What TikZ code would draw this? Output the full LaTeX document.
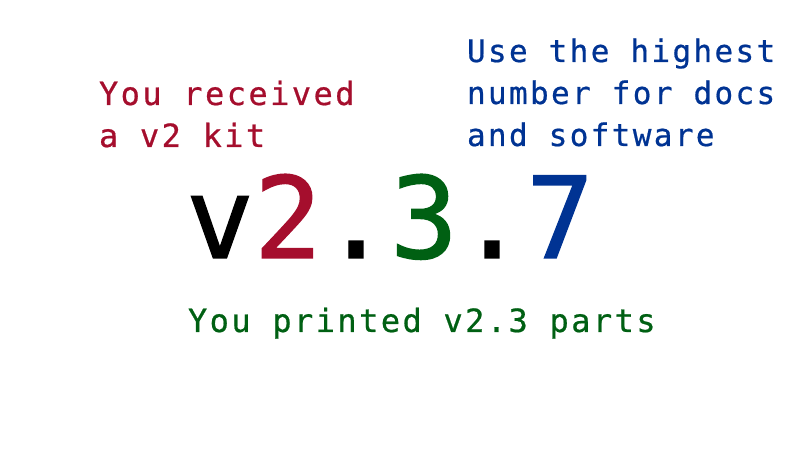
\documentclass[tikz,border=0pt]{standalone}
\usepackage{fontspec}
\setmonofont{DejaVu Sans Mono}
\newfontfamily\verlabelfont{DejaVu Sans Mono}[LetterSpace=7.6,FakeBold=0.6]
\newfontfamily\vernumfont{DejaVu Sans Mono}[FakeBold=1.2]
\usepackage{xcolor}
\definecolor{verRed}{HTML}{A50E2D}
\definecolor{verGreen}{HTML}{006013}
\definecolor{verBlue}{HTML}{003393}
\usepackage{tikz}
\usetikzlibrary{positioning}

\begin{document}
\begin{tikzpicture}[
      x=1pt,y=1pt,
      every node/.style={inner sep=0pt,outer sep=0pt},
      note/.style={font=\verlabelfont\fontsize{32}{42}\selectfont,
                   align=left,anchor=base west},
      hint/.style={note,font=\verlabelfont\fontsize{31}{42}\selectfont},
      version/.style={font=\vernumfont\fontsize{113}{113}\selectfont,
                      anchor=base},
    ]
    % canvas, 800 x 450
    \useasboundingbox (0,0) rectangle (800,450);

    % the version number itself
    \node[version] (ver) at (390,192) {v\textcolor{verRed}{2}.\textcolor{verGreen}{3}.\textcolor{verBlue}{7}};

    % Top left: major part (base = last line)
    \node[note,text=verRed] (major) at (99,303) {%
      You received\\
      a v2 kit%
    };

    % Top right: patch part
    \node[hint,text=verBlue] (patch) at (467,304) {%
      Use the highest\\
      number for docs\\
      and software%
    };

    % Below: minor part
    \node[note,text=verGreen] (minor) at (188,118) {You printed v2.3 parts};

  \end{tikzpicture}
\end{document}
